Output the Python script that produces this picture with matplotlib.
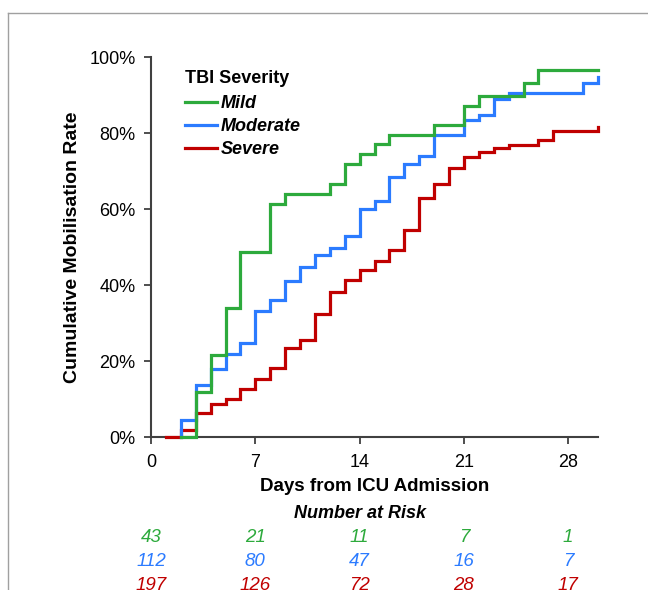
import matplotlib.pyplot as plt
from matplotlib.lines import Line2D
from matplotlib.transforms import blended_transform_factory
from matplotlib.ticker import PercentFormatter

plt.rcParams['font.family'] = ['Liberation Sans', 'DejaVu Sans']

# cumulative mobilisation (%) at each event day
mild_start = 2
mild_days = [3, 4, 5, 6, 8, 9, 12, 13, 14, 15, 16, 19, 21, 22, 25, 26]
mild_rate = [11.9, 21.7, 34.0, 48.7, 61.4, 64.0, 66.6, 71.9, 74.5, 77.0, 79.5, 82.1, 87.2, 89.8, 93.2, 96.5]

moderate_start = 2
moderate_days = [2, 3, 4, 5, 6, 7, 8, 9, 10, 11, 12, 13, 14, 15, 16, 17, 18, 19, 21, 22, 23, 24, 29, 30]
moderate_rate = [4.6, 13.6, 18.0, 21.9, 24.7, 33.1, 36.1, 41.0, 44.8, 47.8, 49.8, 52.8, 59.9, 62.1,
                 68.5, 71.8, 73.9, 79.5, 83.5, 84.7, 89.0, 90.4, 93.2, 94.7]

severe_start = 1
severe_days = [2, 3, 4, 5, 6, 7, 8, 9, 10, 11, 12, 13, 14, 15, 16, 17, 18, 19, 20, 21, 22, 23, 24, 26, 27, 30]
severe_rate = [1.8, 6.3, 8.6, 9.9, 12.6, 15.3, 18.2, 23.3, 25.5, 32.4, 38.1, 41.4, 43.9, 46.4, 49.1,
               54.5, 62.9, 66.7, 70.9, 73.8, 74.9, 76.0, 76.9, 78.2, 80.4, 81.5]

end_day = 30
risk_days = [0, 7, 14, 21, 28]
risk_mild = [43, 21, 11, 7, 1]
risk_moderate = [112, 80, 47, 16, 7]
risk_severe = [197, 126, 72, 28, 17]

green = '#2DAA3C'
blue = '#2B7BFF'
red = '#C00000'

def curve(start, days, rate):
    x = [start] + days + [end_day]
    y = [0] + rate + [rate[-1]]
    return x, y

fig = plt.figure(figsize=(6.48, 5.90), dpi=100)
ax = fig.add_axes([151/648, 1-437/590, 447/648, 380/590])

for (s, d, r), c in [((severe_start, severe_days, severe_rate), red),
                     ((moderate_start, moderate_days, moderate_rate), blue),
                     ((mild_start, mild_days, mild_rate), green)]:
    x, y = curve(s, d, r)
    ax.step(x, y, where='post', color=c, lw=2.3, solid_joinstyle='miter', zorder=3, clip_on=False)

ax.set_xlim(0, end_day)
ax.set_ylim(0, 100)
ax.set_xticks(risk_days)
ax.set_yticks(range(0, 101, 20))
ax.yaxis.set_major_formatter(PercentFormatter(decimals=0))
for s in ['top', 'right']:
    ax.spines[s].set_visible(False)
for s in ['left', 'bottom']:
    ax.spines[s].set_color('#404040')
    ax.spines[s].set_linewidth(1.5)
ax.tick_params(direction='out', length=5, width=1.3, color='#404040', labelsize=13, pad=6)
ax.tick_params(axis='x', pad=7)
ax.set_xlabel('Days from ICU Admission', fontsize=13.5, fontweight='bold', labelpad=5)
ax.set_ylabel('Cumulative Mobilisation Rate', fontsize=14, fontweight='bold', labelpad=6)

handles = [Line2D([], [], color=c, lw=2.3) for c in (green, blue, red)]
leg = ax.legend(handles, ['Mild', 'Moderate', 'Severe'], loc='upper left',
                bbox_to_anchor=(0.048, 1.0), frameon=False, title='TBI Severity',
                alignment='left', handlelength=1.75, handletextpad=0.2, labelspacing=0.33,
                borderaxespad=0.3, prop={'size': 13, 'weight': 'bold', 'style': 'italic'})
leg.get_title().set_fontsize(13)
leg.get_title().set_fontweight('bold')
leg._legend_box.sep = 6

tr = blended_transform_factory(ax.transData, fig.transFigure)
ax.text(14, 1-513/590, 'Number at Risk', transform=tr,
        ha='center', va='center', fontsize=13, fontweight='bold', style='italic')
for counts, c, ypix in [(risk_mild, green, 538), (risk_moderate, blue, 562), (risk_severe, red, 586)]:
    for d, n in zip(risk_days, counts):
        ax.text(d, 1-ypix/590, str(n), transform=tr, ha='center', va='center',
                fontsize=13.5, style='italic', color=c, clip_on=False)

# grey frame around the figure (cropped on right and bottom)
fig.add_artist(Line2D([8/648, 8/648], [0, 1-13/590], transform=fig.transFigure, color='#A0A0A0', lw=1))
fig.add_artist(Line2D([8/648, 1], [1-13/590, 1-13/590], transform=fig.transFigure, color='#A0A0A0', lw=1))

fig.savefig('out.png', dpi=100)
